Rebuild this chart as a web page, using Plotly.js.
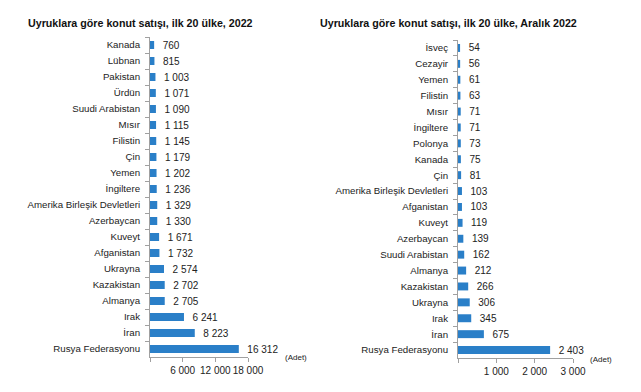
<!DOCTYPE html>
<html>
<head>
<meta charset="utf-8">
<script src="https://cdn.plot.ly/plotly-3.0.1.min.js"></script>
<style>html,body{margin:0;padding:0;background:#fff}#chart{width:641px;height:392px}</style>
</head>
<body>
<div id="chart"></div>
<script>
// Left chart: 2022, top 20 countries
const countries2022 = ["Kanada","Lübnan","Pakistan","Ürdün","Suudi Arabistan","Mısır","Filistin","Çin","Yemen","İngiltere","Amerika Birleşik Devletleri","Azerbaycan","Kuveyt","Afganistan","Ukrayna","Kazakistan","Almanya","Irak","İran","Rusya Federasyonu"];
const sales2022 = [760,815,1003,1071,1090,1115,1145,1179,1202,1236,1329,1330,1671,1732,2574,2702,2705,6241,8223,16312];

// Right chart: December 2022, top 20 countries
const countriesDec = ["İsveç","Cezayir","Yemen","Filistin","Mısır","İngiltere","Polonya","Kanada","Çin","Amerika Birleşik Devletleri","Afganistan","Kuveyt","Azerbaycan","Suudi Arabistan","Almanya","Kazakistan","Ukrayna","Irak","İran","Rusya Federasyonu"];
const salesDec = [54,56,61,63,71,71,73,75,81,103,103,119,139,162,212,266,306,345,675,2403];

const ticks2022 = [0,6000,12000,18000];
const tickText2022 = ["","6 000","12 000","18 000"];
const ticksDec = [0,1000,2000,3000];
const tickTextDec = ["","1 000","2 000","3 000"];

function fmt(v){ return "\u00a0\u00a0" + String(v).replace(/\B(?=(\d{3})+(?!\d))/g, " "); }

const BAR = "#2a7fc8";
const FONT = "Liberation Sans, Arial, sans-serif";
const TXT = "#222";

const traces = [
  {type:"bar", orientation:"h", y:countries2022, x:sales2022, xaxis:"x", yaxis:"y",
   marker:{color:BAR}, width:0.5, text:sales2022.map(fmt), textposition:"outside",
   constraintext:"none",
   textfont:{family:FONT,size:10,color:TXT}, cliponaxis:false, hoverinfo:"skip"},
  {type:"bar", orientation:"h", y:countriesDec, x:salesDec, xaxis:"x2", yaxis:"y2",
   marker:{color:BAR}, width:0.5, text:salesDec.map(fmt), textposition:"outside",
   constraintext:"none",
   textfont:{family:FONT,size:10,color:TXT}, cliponaxis:false, hoverinfo:"skip"}
];

const yax = (dom, anchor) => ({
  domain: dom, anchor: anchor, type:"category", autorange:"reversed",
  showline:true, linecolor:"#a0a0a0", linewidth:1,
  ticks:"outside", ticklen:4, tickcolor:"#a0a0a0", tickson:"boundaries",
  tickfont:{family:FONT,size:9.7,color:TXT}, ticklabelstandoff:7,
  showgrid:false, zeroline:false, fixedrange:true
});
const xax = (dom, anchor, range, tv, tt) => ({
  domain: dom, anchor: anchor, range: range,
  tickmode:"array", tickvals:tv, ticktext:tt, tickangle:0,
  showline:true, linecolor:"#a0a0a0", linewidth:1,
  ticks:"outside", ticklen:4, tickcolor:"#a0a0a0",
  tickfont:{family:FONT,size:10,color:TXT},
  showgrid:false, zeroline:false, fixedrange:true
});

const layout = {
  width:641, height:392, margin:{l:0,r:0,t:0,b:0},
  paper_bgcolor:"#fff", plot_bgcolor:"#fff", showlegend:false,
  bargap:0.5,
  xaxis: xax([150/641, 248/641], "y", [0,18000], ticks2022, tickText2022),
  yaxis: yax([1-357/392, 1-37/392], "x"),
  xaxis2: xax([458/641, 573/641], "y2", [0,3000], ticksDec, tickTextDec),
  yaxis2: yax([1-358/392, 1-40/392], "x2"),
  annotations: [
    {text:"<b>Uyruklara göre konut satışı, ilk 20 ülke, 2022</b>", xref:"paper", yref:"paper",
     x:26/641, y:1-23/392, xanchor:"left", yanchor:"middle", showarrow:false,
     font:{family:FONT,size:10.7,color:"#111"}},
    {text:"<b>Uyruklara göre konut satışı, ilk 20 ülke, Aralık 2022</b>", xref:"paper", yref:"paper",
     x:318/641, y:1-23/392, xanchor:"left", yanchor:"middle", showarrow:false,
     font:{family:FONT,size:10.7,color:"#111"}},
    {text:"(Adet)", xref:"paper", yref:"paper", x:283/641, y:1-357/392, xanchor:"left", yanchor:"middle",
     showarrow:false, font:{family:FONT,size:8,color:TXT}},
    {text:"(Adet)", xref:"paper", yref:"paper", x:588/641, y:1-359/392, xanchor:"left", yanchor:"middle",
     showarrow:false, font:{family:FONT,size:8,color:TXT}}
  ]
};

Plotly.newPlot("chart", traces, layout, {displayModeBar:false, staticPlot:true});
</script>
</body>
</html>
